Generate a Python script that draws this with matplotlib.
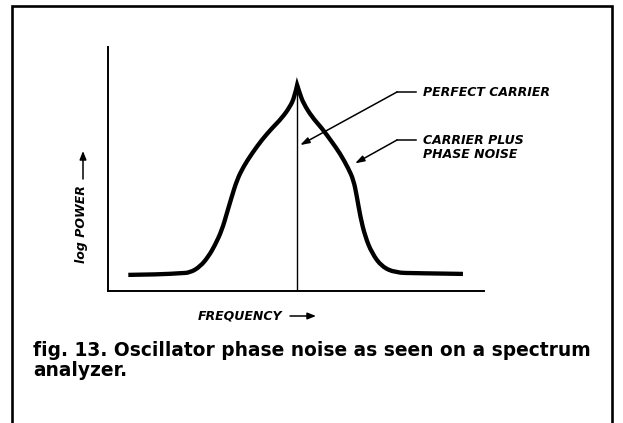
import matplotlib
matplotlib.use("Agg")
import matplotlib.pyplot as plt
from matplotlib.path import Path
from matplotlib.patches import PathPatch

W, H = 623, 423

# spectrum trace: offset from carrier vs. log power
FREQ = [-4.49, -3.64, -3.11, -2.85, -2.58, -2.36, -2.18, -2.00, -1.87, -1.74,
        -1.60, -1.43, -1.20, -0.94, -0.67, -0.41, -0.19, -0.07, 0.00,
        0.08, 0.17, 0.39, 0.66, 0.92, 1.14, 1.36, 1.50, 1.59, 1.68, 1.81,
        1.99, 2.25, 2.61, 3.14, 4.41]
POWER = [0.66, 0.68, 0.73, 0.75, 1.00, 1.41, 1.89, 2.50, 3.18, 3.86,
         4.55, 5.09, 5.64, 6.19, 6.67, 7.08, 7.55, 7.95, 8.44,
         8.05, 7.69, 7.14, 6.67, 6.12, 5.64, 5.03, 4.55, 3.86, 3.05, 2.23,
         1.55, 1.00, 0.75, 0.73, 0.70]
CARRIER_FREQ = 0.0
CARRIER_POWER = 8.44

LABELS = ["PERFECT CARRIER", "CARRIER PLUS\nPHASE NOISE"]
LABEL_TIPS = [(0.08, 5.98), (1.54, 5.23)]
CAPTION = "fig. 13. Oscillator phase noise as seen on a spectrum\nanalyzer."


def px_box(left, top, right, bottom):
    return [left / W, 1 - bottom / H, (right - left) / W, (bottom - top) / H]


def smooth_path(xs, ys, peak_x):
    # quadratic bezier through midpoints, kept sharp at the carrier peak
    pts = list(zip(xs, ys))
    k = xs.index(peak_x)
    verts, codes = [pts[0]], [Path.MOVETO]
    for part in (pts[:k + 1], pts[k:]):
        for i in range(1, len(part) - 1):
            if i == len(part) - 2:
                end = part[-1]
            else:
                end = ((part[i][0] + part[i + 1][0]) / 2,
                       (part[i][1] + part[i + 1][1]) / 2)
            verts += [part[i], end]
            codes += [Path.CURVE3, Path.CURVE3]
    return Path(verts, codes)


fig = plt.figure(figsize=(W / 100, H / 100), dpi=100)
fig.patch.set_facecolor("white")

# page overlay in pixel units (origin top-left) for frame and labels
page = fig.add_axes([0, 0, 1, 1], zorder=0)
page.set_xlim(0, W)
page.set_ylim(H, 0)
page.axis("off")

page.plot([12, 12, 612, 612], [H, 6, 6, H], color="black", lw=1.9,
          solid_joinstyle="miter")

ax = fig.add_axes(px_box(108, 47, 484, 291), zorder=2)
ax.patch.set_alpha(0)
ax.set_xlim(-5.03, 4.97)
ax.set_ylim(0, 10)
for side in ("top", "right"):
    ax.spines[side].set_visible(False)
for side in ("left", "bottom"):
    ax.spines[side].set_linewidth(1.4)
ax.set_xticks([])
ax.set_yticks([])

trace = PathPatch(smooth_path(FREQ, POWER, CARRIER_FREQ), fill=False,
                  edgecolor="black", lw=3.1, capstyle="butt", joinstyle="miter")
ax.add_patch(trace)
ax.plot([CARRIER_FREQ, CARRIER_FREQ], [0, CARRIER_POWER], color="black", lw=1.0)

label_font = dict(fontsize=9.0, fontstyle="italic", fontweight="bold",
                  family="DejaVu Sans", color="black")
arrow_style = "-|>,head_length=0.55,head_width=0.18"

elbows = [(397, 92), (397, 140)]
for text, tip, (ex, ey) in zip(LABELS, LABEL_TIPS, elbows):
    page.plot([ex, ex + 19], [ey, ey], color="black", lw=1.1)
    ax.annotate("", xy=tip, xycoords="data", xytext=(ex, ey),
                textcoords=page.transData,
                arrowprops=dict(arrowstyle=arrow_style, color="black",
                                lw=1.1, shrinkA=0, shrinkB=0))
    two_lines = "\n" in text
    page.text(423, ey - 6.5 if two_lines else ey, text,
              va="top" if two_lines else "center", ha="left",
              linespacing=1.2, **label_font)

# axis captions with direction arrows
page.text(81, 224, "log POWER", rotation=90, ha="center", va="center",
          **label_font)
page.annotate("", xy=(83, 151), xytext=(83, 179),
              arrowprops=dict(arrowstyle="-|>,head_length=0.5,head_width=0.2",
                              color="black", lw=1.1, shrinkA=0, shrinkB=0))
page.text(240, 316, "FREQUENCY", ha="center", va="center", **label_font)
page.annotate("", xy=(316, 316), xytext=(290, 316),
              arrowprops=dict(arrowstyle="-|>,head_length=0.5,head_width=0.2",
                              color="black", lw=1.1, shrinkA=0, shrinkB=0))

page.text(33, 341, CAPTION, ha="left", va="top", fontsize=13.4,
          fontweight="bold", family="DejaVu Sans", linespacing=1.08)

fig.savefig("out.png", dpi=100)
